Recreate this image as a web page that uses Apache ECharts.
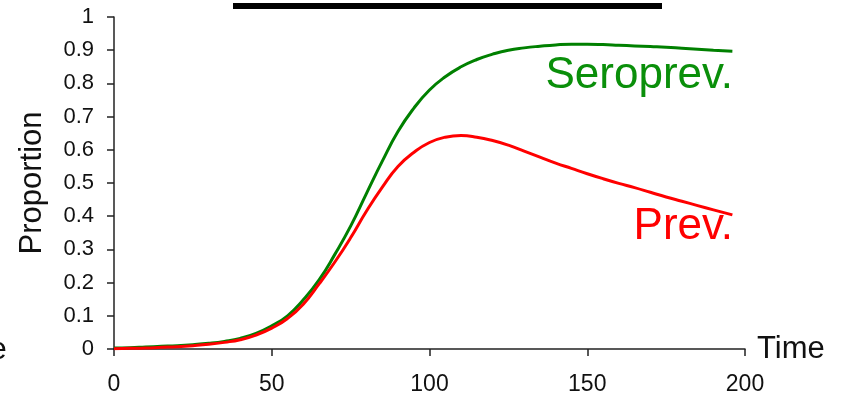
<!DOCTYPE html>
<html lang="en">
<head>
  <meta charset="UTF-8">
  <script src="https://cdn.jsdelivr.net/npm/echarts@6/dist/echarts.min.js"></script>
  <style>
    body { margin: 0; background: #fff; }
    #main { width: 842px; height: 398px; }
  </style>
  <title>Proportion</title>
</head>
<body>
  <div id="main"></div>
  <script>
    // time points and read-off values
    var times = [0, 5, 10, 15, 20, 25, 30, 35, 40, 45, 50, 55, 60, 65, 70, 75, 80, 85, 90, 95,
      100, 105, 110, 115, 120, 125, 130, 135, 140, 145, 150, 155, 160, 165, 170, 175, 180, 185, 190, 196];
    var seroprev = [0.003, 0.004, 0.006, 0.008, 0.010, 0.013, 0.017, 0.023, 0.032, 0.047,
      0.070, 0.100, 0.148, 0.208, 0.285, 0.370, 0.468, 0.565, 0.655, 0.725,
      0.780, 0.820, 0.850, 0.872, 0.888, 0.900, 0.907, 0.912, 0.916, 0.918,
      0.918, 0.917, 0.915, 0.913, 0.911, 0.909, 0.906, 0.903, 0.900, 0.897];
    var prev = [0.001, 0.002, 0.003, 0.005, 0.007, 0.010, 0.014, 0.020, 0.028, 0.042,
      0.063, 0.092, 0.135, 0.196, 0.262, 0.335, 0.415, 0.487, 0.550, 0.592,
      0.622, 0.638, 0.643, 0.638, 0.628, 0.614, 0.596, 0.578, 0.560, 0.544,
      0.528, 0.513, 0.499, 0.486, 0.472, 0.458, 0.445, 0.432, 0.419, 0.404];

    function pairs(ys) {
      return times.map(function (t, i) { return [t, ys[i]]; });
    }

    var font = 'Liberation Sans, Arial, sans-serif';
    var myChart = echarts.init(document.getElementById('main'));
    var option = {
      animation: false,
      grid: { left: 114, right: 97, top: 17, bottom: 49 },
      xAxis: {
        type: 'value',
        min: 0, max: 200, interval: 50,
        name: 'Time',
        nameLocation: 'end',
        nameGap: 12,
        nameTextStyle: { fontSize: 31, color: '#111', fontFamily: font },
        axisLine: { lineStyle: { color: '#222', width: 1.5 } },
        axisTick: { length: 7, lineStyle: { color: '#222', width: 1.5 } },
        axisLabel: { fontSize: 23, color: '#111', fontFamily: font, margin: 24 },
        splitLine: { show: false }
      },
      yAxis: {
        type: 'value',
        min: 0, max: 1, interval: 0.1,
        name: 'Proportion',
        nameLocation: 'middle',
        nameRotate: 90,
        nameGap: 66,
        nameTextStyle: { fontSize: 31, color: '#111', fontFamily: font },
        axisLine: { show: true, lineStyle: { color: '#222', width: 1.5 } },
        axisTick: { show: true, length: 7, lineStyle: { color: '#222', width: 1.5 } },
        axisLabel: {
          fontSize: 22, color: '#111', fontFamily: font, margin: 20,
          formatter: function (v) { return String(+v.toFixed(1)); }
        },
        splitLine: { show: false }
      },
      series: [
        {
          name: 'Seroprev.',
          type: 'line',
          data: pairs(seroprev),
          smooth: true,
          showSymbol: false,
          lineStyle: { color: '#008000', width: 3 },
          z: 2
        },
        {
          name: 'Prev.',
          type: 'line',
          data: pairs(prev),
          smooth: true,
          showSymbol: false,
          lineStyle: { color: '#ff0000', width: 3 },
          z: 3
        }
      ],
      graphic: [
        // remains of a cropped title bar
        { type: 'rect', shape: { x: 233, y: 3, width: 429, height: 6 }, style: { fill: '#000' } },
        { type: 'text', left: -11, top: 334, style: { text: 'e', font: '32px ' + font, fill: '#111' } },
        { type: 'text', x: 733, y: 98, style: { text: 'Seroprev.', font: '44px ' + font, fill: '#0a8f0a', textAlign: 'right', textVerticalAlign: 'bottom' } },
        { type: 'text', x: 733, y: 249, style: { text: 'Prev.', font: '44px ' + font, fill: '#ff0000', textAlign: 'right', textVerticalAlign: 'bottom' } }
      ]
    };
    myChart.setOption(option);
  </script>
</body>
</html>
